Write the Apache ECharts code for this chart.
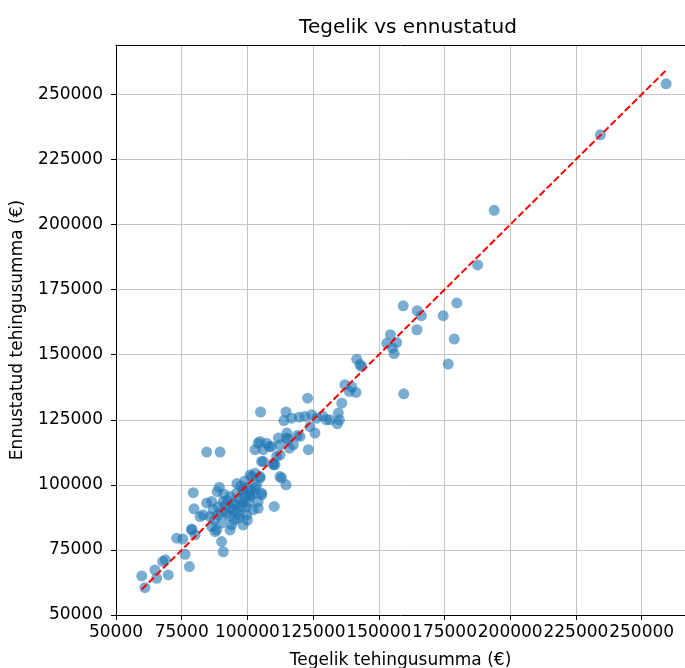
<!doctype html>
<html>
<head>
    <meta charset="utf-8">
    <title>Tegelik vs ennustatud</title>
    <style>
        html, body { margin: 0; padding: 0; background: #fff; }
        #chart { width: 685px; height: 668px; }
    </style>
</head>
<body>
<div id="chart"></div>
<script src="https://cdn.jsdelivr.net/npm/echarts/dist/echarts.min.js"></script>
<script>
    // tegelik tehingusumma (x) ja ennustatud tehingusumma (y), loetud pildilt
    var tegelik = [
        59800, 61000, 64800, 65500, 67800, 68800, 69900, 73100, 75400, 76300,
        77900, 78800, 80100, 79400, 79700, 82000, 78800, 84500, 89600,
        84500, 86400, 86400, 87700, 83200, 85800, 87000, 88900, 88500, 89300,
        88300, 90200, 90200, 90800, 90800, 92100, 93400, 93400, 94000, 94600,
        95900, 96500, 97800, 98400, 98400, 98400, 99700, 101000, 101000, 102200,
        104100, 104100, 105400, 105400, 103500, 101600, 101000, 102900, 104800, 104800,
        106000, 109900, 105400, 110200, 113000, 114700, 112400, 110500, 109900,
        91500, 92500, 93500, 94500, 95500, 96000, 97000, 97500, 98000, 99000,
        99500, 100000, 100500, 101500, 102500, 103000, 91000, 89000, 87500, 95000,
        97000, 100000, 96000, 99000, 93000, 90000,
        102900, 104800, 104100, 106000, 107300, 108300, 109200, 105000, 111100, 112400,
        112400, 114900, 111800, 115000, 115500, 116000, 117500, 119000, 120000, 123200,
        114700, 113900, 116800, 119700, 121900, 124500, 126400, 128600, 130100, 131400,
        135000, 134200, 134600, 135900, 123800, 125700, 122900, 137100, 138800, 139700,
        141300, 141600, 142800, 143500,
        153000, 154400, 155200, 155800, 156800, 159300, 159500, 164500, 164600, 166200,
        174500, 176400, 178700, 179700, 187600, 193900, 234300, 259300
    ];
    var ennustatud = [
        65000, 60500, 67300, 64100, 70600, 71200, 65400, 79500, 79200, 73300,
        68600, 82700, 80800, 97000, 90800, 87800, 83000, 112600, 112600,
        93000, 93600, 84000, 82000, 88500, 87800, 90400, 88500, 97400, 99100,
        82700, 85300, 78200, 74300, 93600, 89100, 95500, 82700, 84600, 90400,
        96800, 87200, 91700, 98100, 84600, 97400, 88500, 95500, 96200, 90400,
        93600, 91000, 96200, 96800, 100000, 103200, 103800, 104500, 102700, 103200,
        109000, 108300, 109000, 91700, 102600, 100000, 103200, 107700, 107700,
        92000, 94000, 91000, 93000, 92500, 89500, 94500, 99500, 93000, 95000,
        91500, 99000, 93500, 98000, 96500, 99000, 96500, 91500, 86500, 86500,
        88500, 86500, 100500, 101500, 88000, 89500,
        113500, 116700, 116000, 113500, 116000, 114700, 114700, 128000, 110900, 111500,
        115400, 118000, 118000, 119900, 117500, 114100, 115400, 119000, 118600, 113500,
        128000, 124700, 125600, 126000, 126300, 126900, 125600, 126500, 125000, 125000,
        125000, 123500, 127600, 131400, 122400, 119900, 133300, 138500, 135900, 137600,
        135500, 148300, 146200, 145500,
        154400, 157700, 152600, 150400, 154700, 168800, 135000, 159600, 166900, 165000,
        165000, 146400, 156000, 169900, 184500, 205500, 234500, 254100
    ];
    var tickLabels = [50000, 75000, 100000, 125000, 150000, 175000, 200000, 225000, 250000];

    var punktid = tegelik.map(function (v, i) { return [v, ennustatud[i]]; });
    var lo = Math.min.apply(null, tegelik);
    var hi = Math.max.apply(null, tegelik);

    var font = 'DejaVu Sans';
    var labelStyle = {
        customValues: tickLabels,
        showMinLabel: true, showMaxLabel: true, hideOverlap: false,
        fontFamily: font, fontSize: 17, color: '#000',
        formatter: function (v) { return String(v); }
    };
    var gridLine = { show: true, lineStyle: { color: '#c4c4c4', width: 1 } };

    var myChart = echarts.init(document.getElementById('chart'));
    var option = {
        animation: false,
        title: {
            text: 'Tegelik vs ennustatud',
            left: 403,
            top: 13,
            textAlign: 'center',
            textStyle: { fontFamily: font, fontSize: 20, fontWeight: 'normal', color: '#000' }
        },
        grid: { left: 116, top: 45, right: 0, bottom: 53, outerBoundsMode: 'none', containLabel: false },
        xAxis: [{
            type: 'value',
            min: 50000, max: 266500, interval: 25000,
            name: 'Tegelik tehingusumma (€)',
            nameLocation: 'middle',
            nameGap: 37,
            nameTextStyle: { fontFamily: font, fontSize: 17, color: '#000' },
            axisLine: { lineStyle: { color: '#000', width: 1 } },
            axisTick: { length: 5, lineStyle: { color: '#000' }, customValues: tickLabels },
            axisLabel: Object.assign({ margin: 9 }, labelStyle),
            splitLine: gridLine
        }, {
            // ylemine raam
            type: 'value', position: 'top',
            min: 50000, max: 266500,
            axisLine: { show: true, lineStyle: { color: '#000', width: 1 } },
            axisTick: { show: false },
            axisLabel: { show: false },
            splitLine: { show: false }
        }],
        yAxis: {
            type: 'value',
            min: 50000, max: 269000, interval: 25000,
            name: 'Ennustatud tehingusumma (€)',
            nameLocation: 'middle',
            nameGap: 90,
            nameTextStyle: { fontFamily: font, fontSize: 17, color: '#000' },
            axisLine: { lineStyle: { color: '#000', width: 1 } },
            axisTick: { length: 5, lineStyle: { color: '#000' }, customValues: tickLabels },
            axisLabel: Object.assign({ margin: 13 }, labelStyle),
            splitLine: gridLine
        },
        series: [{
            type: 'scatter',
            data: punktid,
            symbolSize: 11,
            itemStyle: { color: '#1f77b4', opacity: 0.6 }
        }, {
            type: 'line',
            data: [[lo, lo], [hi, hi]],
            symbol: 'none',
            z: 5,
            lineStyle: { color: '#ff0000', width: 2, type: [7, 3] }
        }]
    };
    myChart.setOption(option);
</script>
</body>
</html>
